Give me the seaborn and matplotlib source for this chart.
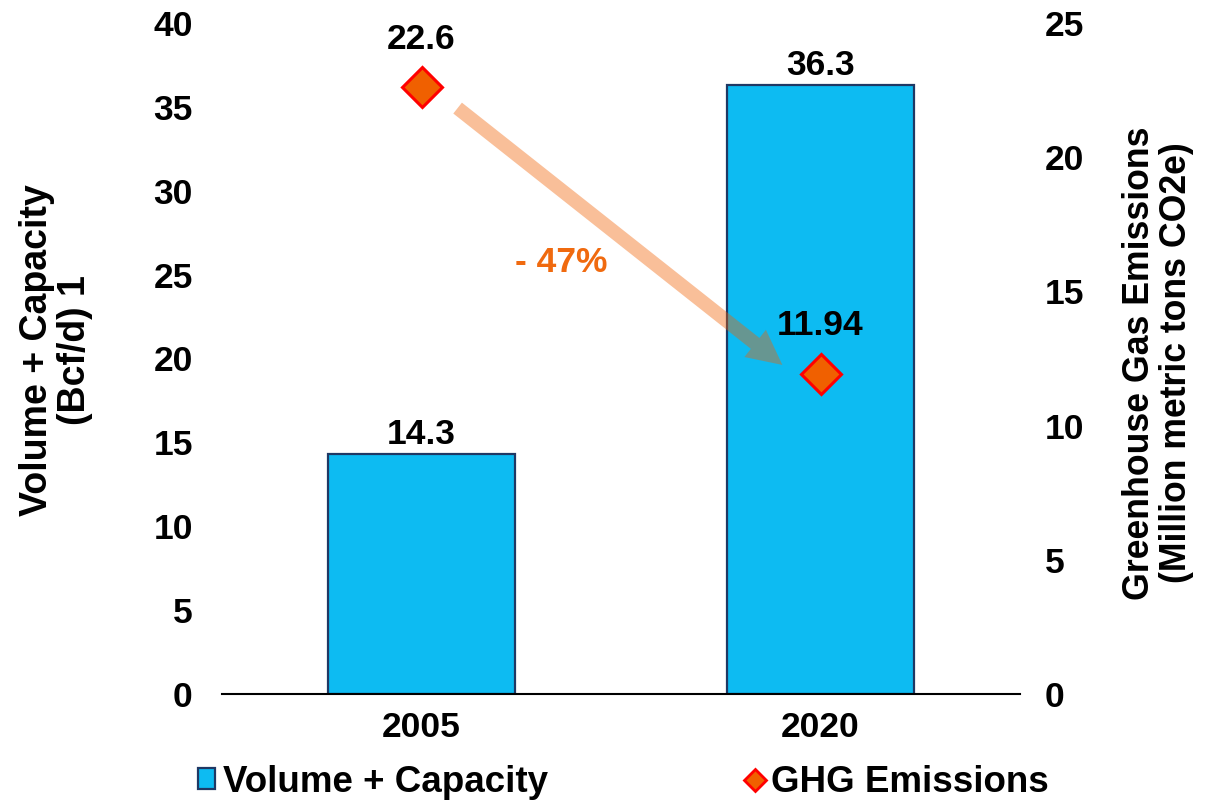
import matplotlib
matplotlib.use("Agg")
import matplotlib.pyplot as plt
import seaborn as sns
import pandas as pd
from matplotlib.patches import Patch
from matplotlib.lines import Line2D

years = ["2005", "2020"]
volume_capacity = [14.3, 36.3]
ghg_emissions = [22.6, 11.94]
change_label = "- 47%"

left_ticks = [0, 5, 10, 15, 20, 25, 30, 35, 40]
right_ticks = [0, 5, 10, 15, 20, 25]

BAR_FILL = "#0DBBF2"
BAR_EDGE = "#1F3864"
DIAMOND_FILL = "#F06000"
DIAMOND_EDGE = "#FF0000"
ORANGE_TEXT = "#F06A0F"

sns.set_theme(style="white")
plt.rcParams["font.family"] = ["Liberation Sans", "DejaVu Sans"]
plt.rcParams["font.weight"] = "bold"
plt.rcParams["text.color"] = "black"
plt.rcParams["xtick.color"] = "black"
plt.rcParams["ytick.color"] = "black"
plt.rcParams["axes.labelcolor"] = "black"

FS = 25.5

df = pd.DataFrame({"year": years, "volume": volume_capacity, "ghg": ghg_emissions})

fig = plt.figure(figsize=(12.07, 8.02), dpi=100)
ax = fig.add_axes([222 / 1207, 1 - 694 / 802, (1020 - 222) / 1207, (694 - 23) / 802])

sns.barplot(data=df, x="year", y="volume", color=BAR_FILL, saturation=1,
            width=0.47, edgecolor=BAR_EDGE, linewidth=1.6, ax=ax)
ax.set_xlim(-0.5, 1.5)
ax.set_ylim(0, 40)
ax.set_yticks(left_ticks)
ax.set_xlabel("")
ax.set_ylabel("Volume + Capacity\n(Bcf/d) 1", fontsize=27, fontweight="bold",
              va="center", ha="center", linespacing=1.1)
ax.yaxis.set_label_coords(-0.208, 0.5127)

for i, v in enumerate(volume_capacity):
    ax.annotate(f"{v}", (i, v), xytext=(0, 7), textcoords="offset points",
                ha="center", va="baseline", fontsize=FS, fontweight="bold", color="black")

ax2 = ax.twinx()
sns.pointplot(data=df, x="year", y="ghg", markers="D", linestyle="none",
              color=DIAMOND_FILL, ax=ax2,
              markersize=20, markeredgecolor=DIAMOND_EDGE, markeredgewidth=2.2)
ax2.set_xlim(-0.5, 1.5)
ax2.set_ylim(0, 25)
ax2.set_yticks(right_ticks)
ax2.set_xlabel("")
ax2.set_ylabel("Greenhouse Gas Emissions\n(Million metric tons CO2e)", fontsize=25.7,
               fontweight="bold", va="center", ha="center", rotation=90, linespacing=1.1)
ax2.yaxis.set_label_coords(1.173, 0.4933)

for i, v in enumerate(ghg_emissions):
    ax2.annotate(f"{v}", (i, v), xytext=(0, 28), textcoords="offset points",
                 ha="center", va="baseline", fontsize=FS, fontweight="bold", color="black")

# arrow showing decline
ax2.annotate("", xy=(0.9045, 12.26), xytext=(0.0905, 21.83),
             arrowprops=dict(arrowstyle="simple,head_length=2.5,head_width=2.5,tail_width=1.0",
                             mutation_scale=10, color=DIAMOND_FILL, alpha=0.4, lw=0,
                             shrinkA=0, shrinkB=0), zorder=4)
ax2.text(0.35, 16.06, change_label, color=ORANGE_TEXT, fontsize=FS,
         fontweight="bold", ha="center", va="center")

for a in (ax, ax2):
    for s in ("left", "right", "top"):
        a.spines[s].set_visible(False)
    a.grid(False)
ax.spines["bottom"].set_visible(True)
ax.spines["bottom"].set_color("black")
ax.spines["bottom"].set_linewidth(1.5)
ax2.spines["bottom"].set_visible(False)

ax.tick_params(axis="x", length=0, pad=12, labelsize=FS, labelcolor="black")
ax.tick_params(axis="y", length=0, pad=21, labelsize=FS, labelcolor="black")
ax2.tick_params(axis="y", length=0, pad=18, labelsize=FS, labelcolor="black")
for lab in ax.get_xticklabels() + ax.get_yticklabels() + ax2.get_yticklabels():
    lab.set_fontweight("bold")

handles = [
    Patch(facecolor=BAR_FILL, edgecolor=BAR_EDGE, linewidth=1.6),
    Line2D([0], [0], marker="D", linestyle="none", markersize=11,
           markerfacecolor=DIAMOND_FILL, markeredgecolor=DIAMOND_EDGE, markeredgewidth=2),
]
fig.legend(handles, ["Volume + Capacity", "GHG Emissions"], loc="center left",
           bbox_to_anchor=(198 / 1207, 1 - 782 / 802), ncol=2, frameon=False,
           prop={"weight": "bold", "size": 26.5}, handlelength=0.47, handleheight=0.47,
           handletextpad=0.2, columnspacing=5.4, borderpad=0, borderaxespad=0,
           labelcolor="black")

fig.savefig("out.png", dpi=100)
